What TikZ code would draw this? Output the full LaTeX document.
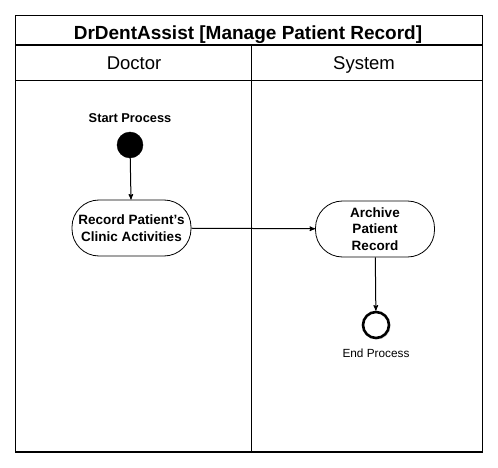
\documentclass[tikz,border=0pt]{standalone}
\usepackage{fontspec}
\setmainfont{Liberation Sans}
\usetikzlibrary{arrows,shadows}

\begin{document}
\begin{tikzpicture}[x=1pt,y=-1pt,
        lane/.style={draw,line width=1.3pt},
        activity/.style={draw,line width=0.8pt,rounded corners=27pt,minimum width=119pt,minimum height=56pt,inner sep=1pt,align=center,font=\fontsize{13.5}{16.5}\selectfont\bfseries},
        flow/.style={-stealth',line width=1pt}]
        \useasboundingbox (0,0) rectangle (498,468);
        % swimlane frame
        \draw[lane] (15.5,15.5) rectangle (482.5,452);
        \draw[lane] (15.5,45) -- (482.5,45);
        \draw[lane] (15.5,80.5) -- (482.5,80.5);
        \draw[lane] (251.5,45) -- (251.5,452);
        \node[anchor=base] at (248,40) (title) {\fontsize{19}{22}\selectfont\bfseries DrDentAssist [Manage Patient Record]};
        \node[anchor=base] at (134,70) (doctor) {\fontsize{18.5}{21}\selectfont Doctor};
        \node[anchor=base] at (364,70) (system) {\fontsize{18.5}{21}\selectfont System};
        % doctor lane
        \node at (130,118) (startlbl) {\fontsize{12.8}{15}\selectfont\bfseries Start Process};
        \node[circle,fill=black,draw,minimum size=26pt,inner sep=0pt] at (130,145) (start) {};
        \node[activity] at (131.5,228) (record) {Record Patient{\char"27}s\\Clinic Activities};
        \draw[flow] (start) -- (record);
        % system lane
        \node[activity] at (375,229) (archive) {Archive\\Patient\\Record};
        \draw[flow] (record) -- (archive);
        \node[circle,draw,line width=2.6pt,fill=white,minimum size=26pt,inner sep=0pt,
              drop shadow={shadow xshift=1.5pt,shadow yshift=-1.5pt,opacity=0.25}] at (376,325) (stop) {};
        \draw[flow] (archive) -- (stop);
        \node at (376,353) (stoplbl) {\fontsize{11.8}{14}\selectfont End Process};
    \end{tikzpicture}
\end{document}
